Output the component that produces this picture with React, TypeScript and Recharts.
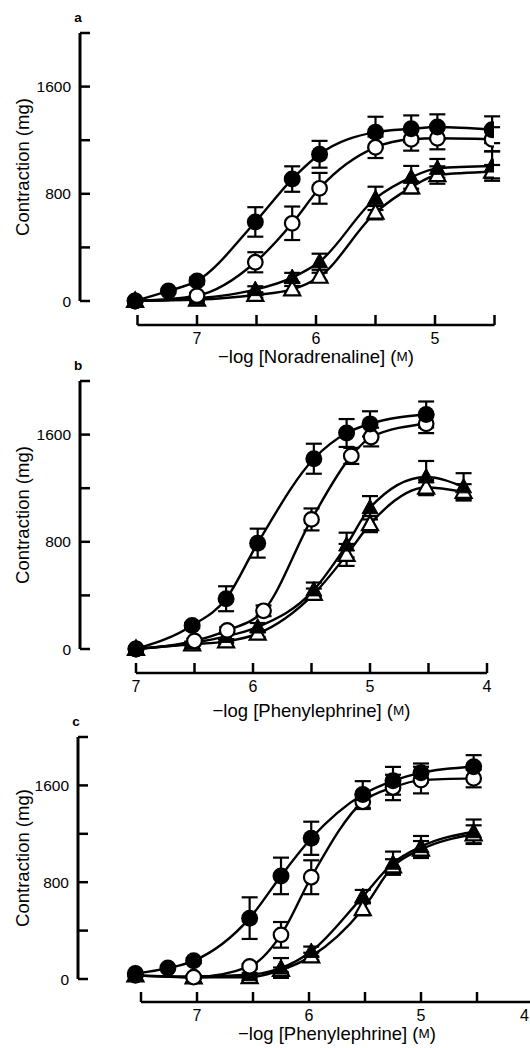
import React from 'react';
import { LineChart, Line, XAxis, YAxis, ErrorBar, ReferenceLine, Label } from 'recharts';

// panel a: -log [noradrenaline], contraction (mg) +- s.e.mean
const aDose = [7.52, 7.24, 7.0, 6.51, 6.2, 5.97, 5.5, 5.2, 4.98, 4.52];
const aFilledCircle = [0, 75, 150, 590, 910, 1095, 1260, 1285, 1298, 1278];
const aFilledCircleSem = [0, 0, 25, 110, 95, 100, 115, 100, 95, 100];
const aOpenCircle = [0, null, 40, 289, 580, 841, 1147, 1207, 1214, 1207];
const aOpenCircleSem = [0, null, 20, 75, 125, 115, 80, 85, 82, 90];
const aFilledTri = [0, null, 20, 85, 175, 293, 766, 923, 990, 1007];
const aFilledTriSem = [0, null, 10, 25, 35, 60, 87, 85, 70, 110];
const aOpenTri = [0, null, 10, 45, 87, 181, 659, 848, 940, 965];
const aOpenTriSem = [0, null, 10, 20, 25, 30, 50, 45, 65, 50];
const aXTicks = [7.5, 7, 6.5, 6, 5.5, 5, 4.5];

// panel b: -log [phenylephrine]
const bDose = [7, 6.52, 6.23, 5.96, 5.48, 5.2, 5.0, 4.52, 4.2];
const bFilledCircle = [0, 175, 375, 790, 1420, 1612, 1680, 1750, null];
const bFilledCircleSem = [0, 20, 93, 108, 112, 104, 94, 97, null];
const bOpenCircleDose = [7, 6.5, 6.22, 5.91, 5.5, 5.16, 4.99, 4.52];
const bOpenCircle = [0, 60, 139, 285, 967, 1441, 1582, 1681];
const bOpenCircleSem = [0, 15, 25, 40, 82, 60, 70, 70];
const bFilledTri = [0, 45, 94, 164, 441, 776, 1054, 1284, 1210];
const bFilledTriSem = [0, 10, 20, 30, 55, 92, 87, 119, 102];
const bOpenTri = [0, 35, 57, 114, 411, 702, 932, 1205, 1173];
const bOpenTriSem = [0, 10, 15, 25, 40, 82, 60, 57, 57];
const bXTicks = [7, 6.5, 6, 5.5, 5, 4.5, 4];

// panel c: -log [phenylephrine]
const cDose = [7.55, 7.26, 7.03, 6.53, 6.25, 5.98, 5.52, 5.25, 5.0, 4.53];
const cFilledCircle = [45, 90, 150, 503, 852, 1163, 1525, 1638, 1704, 1754];
const cFilledCircleSem = [0, 0, 20, 172, 151, 137, 110, 115, 77, 96];
const cOpenCircle = [30, null, 15, 104, 365, 841, 1465, 1583, 1644, 1658];
const cOpenCircleSem = [0, null, 10, 20, 106, 140, 60, 105, 110, 74];
const cFilledTri = [30, null, 21, 35, 91, 228, 681, 957, 1094, 1217];
const cFilledTriSem = [0, null, 10, 15, 82, 40, 55, 96, 88, 101];
const cOpenTri = [30, null, 13, 15, 75, 187, 577, 930, 1070, 1196];
const cOpenTriSem = [0, null, 10, 10, 20, 30, 50, 60, 70, 74];
const cXTicks = [7.5, 7, 6.5, 6, 5.5, 5, 4.5, 4];

const yTicks = [0, 400, 800, 1200, 1600, 2000];
const yLabelled = [0, 800, 1600];
const xLabelled = [7, 6, 5, 4];

const FONT = '"Liberation Sans", Arial, Helvetica, sans-serif';
const W = 540;
const H = 1048;
const PAGE_W = 530;

type Kind = 'fc' | 'oc' | 'ft' | 'ot';
type Pt = { x: number; y: number; e: number };

const toPoints = (dose: number[], vals: (number | null)[], sem: (number | null)[]): Pt[] =>
  dose
    .map((x, i) => ({ x, y: vals[i], e: sem[i] ?? 0 }))
    .filter((p) => p.y != null) as Pt[];

// symbols: filled/open circle, filled/open triangle
const marker = (kind: Kind) => (props: any) => {
  const { cx, cy, index } = props;
  if (cx == null || cy == null) return <g key={index} />;
  if (kind === 'fc') return <circle key={index} cx={cx} cy={cy} r={8.5} fill="#000" />;
  if (kind === 'oc')
    return <circle key={index} cx={cx} cy={cy} r={7.3} fill="#fff" stroke="#000" strokeWidth={2.2} />;
  const d = `M${cx},${cy - 8.5} L${cx + 8},${cy + 6} L${cx - 8},${cy + 6} Z`;
  if (kind === 'ft') return <path key={index} d={d} fill="#000" stroke="#000" strokeWidth={1} />;
  return <path key={index} d={d} fill="#fff" stroke="#000" strokeWidth={2.2} strokeLinejoin="miter" />;
};

const XTick = (props: any) => {
  const { x, y, payload } = props;
  const v = payload.value;
  // the last label of panel c sits on the page edge: keep it inside
  const atEdge = x + 5 > PAGE_W;
  return (
    <g>
      <line x1={x} x2={x} y1={y} y2={y - 10} stroke="#000" strokeWidth={2.5} />
      {xLabelled.includes(v) && (
        <text
          x={atEdge ? PAGE_W - 1 : x}
          y={y + 13}
          textAnchor={atEdge ? 'end' : 'middle'}
          dominantBaseline="central"
          fontSize={16}
          fontFamily={FONT}
          fill="#000"
        >
          {v}
        </text>
      )}
    </g>
  );
};

const YTick = (props: any) => {
  const { x, y, payload } = props;
  const v = payload.value;
  return (
    <g>
      <line x1={x} x2={x + 10} y1={y} y2={y} stroke="#000" strokeWidth={2.5} />
      {yLabelled.includes(v) && (
        <text x={x - 9} y={y} textAnchor="end" dominantBaseline="central" fontSize={15.5} fontFamily={FONT} fill="#000">
          {v}
        </text>
      )}
    </g>
  );
};

interface PanelProps {
  letter: string;
  drug: string;
  top: number; // pixel of 2000 mg
  zero: number; // pixel of 0 mg
  axisY: number; // pixel of the detached x axis
  left: number; // pixel of the y axis
  right: number; // pixel of the last x tick
  refVal: number;
  refPx: number;
  ppu: number; // pixels per log unit
  xTicks: number[];
  titleDy: number;
  series: { kind: Kind; pts: Pt[] }[];
}

function Panel(p: PanelProps) {
  const mgPerPx = 2000 / (p.zero - p.top);
  const yMin = -(p.axisY - p.zero) * mgPerPx;
  const xLeft = p.refVal + (p.refPx - p.left) / p.ppu;
  const xRight = p.refVal - (p.right - p.refPx) / p.ppu;
  const first = p.xTicks[0];
  const last = p.xTicks[p.xTicks.length - 1];
  const toPx = (v: number) => p.refPx + (p.refVal - v) * p.ppu;
  const xMid = (toPx(first) + toPx(last)) / 2;

  return (
    <div style={{ position: 'absolute', left: 0, top: 0 }}>
      <LineChart
        width={W}
        height={H}
        margin={{ top: p.top, left: p.left - 60, right: W - p.right, bottom: H - p.axisY - 40 }}
      >
        <XAxis
          type="number"
          dataKey="x"
          domain={[xRight, xLeft]}
          reversed
          allowDataOverflow
          ticks={p.xTicks}
          interval={0}
          axisLine={false}
          tickLine={false}
          tickSize={0}
          tickMargin={0}
          height={40}
          tick={XTick}
        >
          <Label
            value="xtitle"
            content={() => (
              <text x={xMid} y={p.axisY + p.titleDy} textAnchor="middle" dominantBaseline="central" fontSize={18.5} fontFamily={FONT} fill="#000">
                −log [{p.drug}] (<tspan fontSize={13.5}>M</tspan>)
              </text>
            )}
          />
        </XAxis>
        <YAxis
          type="number"
          domain={[yMin, 2000]}
          allowDataOverflow
          ticks={yTicks}
          interval={0}
          axisLine={false}
          tickLine={false}
          tickSize={0}
          tickMargin={0}
          width={60}
          tick={YTick}
        >
          <Label
            value="ytitle"
            content={() => {
              const cy = (p.top + p.zero) / 2;
              return (
                <g>
                  <text x={22} y={cy} transform={`rotate(-90 22 ${cy})`} textAnchor="middle" dominantBaseline="central" fontSize={18.5} fontFamily={FONT} fill="#000">
                    Contraction (mg)
                  </text>
                  <text x={p.left - 2} y={p.top - 16} textAnchor="middle" dominantBaseline="central" fontSize={13.5} fontWeight="bold" fontFamily={FONT} fill="#000">
                    {p.letter}
                  </text>
                </g>
              );
            }}
          />
        </YAxis>
        <ReferenceLine
          segment={[{ x: xLeft, y: 0 }, { x: xLeft, y: 2000 }]}
          stroke="#000"
          strokeWidth={3}
          ifOverflow="visible"
        />
        <ReferenceLine
          segment={[{ x: first, y: yMin }, { x: last, y: yMin }]}
          stroke="#000"
          strokeWidth={2.5}
          ifOverflow="visible"
        />
        {p.series.map((s, i) => (
          <Line
            key={i}
            data={s.pts}
            dataKey="y"
            type="monotone"
            stroke="#000"
            strokeWidth={2.4}
            dot={marker(s.kind)}
            activeDot={false}
            legendType="none"
            isAnimationActive={false}
          >
            <ErrorBar dataKey="e" direction="y" width={8} stroke="#000" strokeWidth={2.2} isAnimationActive={false} />
          </Line>
        ))}
      </LineChart>
    </div>
  );
}

export default function App() {
  return (
    <div style={{ position: 'absolute', left: 0, top: 0, width: PAGE_W, height: H, overflow: 'hidden', background: '#fff' }}>
      <Panel
        letter="a"
        drug="Noradrenaline"
        top={33}
        zero={301}
        axisY={325}
        left={80}
        right={494}
        refVal={7}
        refPx={197}
        ppu={119}
        xTicks={aXTicks}
        titleDy={31}
        series={[
          { kind: 'ot', pts: toPoints(aDose, aOpenTri, aOpenTriSem) },
          { kind: 'ft', pts: toPoints(aDose, aFilledTri, aFilledTriSem) },
          { kind: 'oc', pts: toPoints(aDose, aOpenCircle, aOpenCircleSem) },
          { kind: 'fc', pts: toPoints(aDose, aFilledCircle, aFilledCircleSem) },
        ]}
      />
      <Panel
        letter="b"
        drug="Phenylephrine"
        top={381}
        zero={649}
        axisY={673}
        left={80}
        right={487}
        refVal={7}
        refPx={136}
        ppu={117}
        xTicks={bXTicks}
        titleDy={37}
        series={[
          { kind: 'ot', pts: toPoints(bDose, bOpenTri, bOpenTriSem) },
          { kind: 'ft', pts: toPoints(bDose, bFilledTri, bFilledTriSem) },
          { kind: 'oc', pts: toPoints(bOpenCircleDose, bOpenCircle, bOpenCircleSem) },
          { kind: 'fc', pts: toPoints(bDose, bFilledCircle, bFilledCircleSem) },
        ]}
      />
      <Panel
        letter="c"
        drug="Phenylephrine"
        top={737}
        zero={979}
        axisY={1002}
        left={78}
        right={533}
        refVal={7}
        refPx={197}
        ppu={112}
        xTicks={cXTicks}
        titleDy={31}
        series={[
          { kind: 'ot', pts: toPoints(cDose, cOpenTri, cOpenTriSem) },
          { kind: 'ft', pts: toPoints(cDose, cFilledTri, cFilledTriSem) },
          { kind: 'oc', pts: toPoints(cDose, cOpenCircle, cOpenCircleSem) },
          { kind: 'fc', pts: toPoints(cDose, cFilledCircle, cFilledCircleSem) },
        ]}
      />
    </div>
  );
}
